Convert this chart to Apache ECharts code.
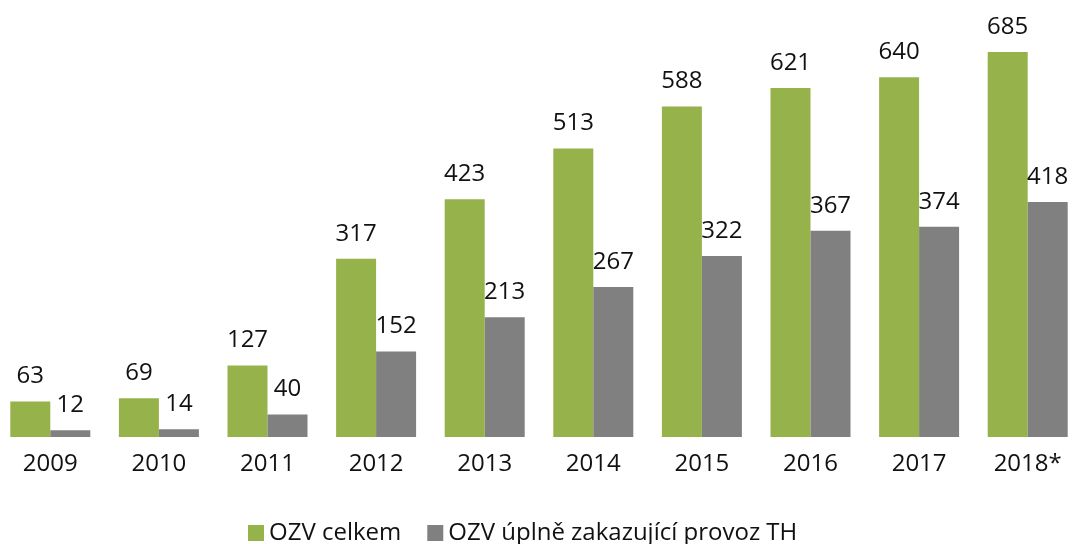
<!DOCTYPE html>
<html>
<head>
<meta charset="utf-8">
<script src="https://cdn.jsdelivr.net/npm/echarts@6/dist/echarts.min.js"></script>
<style>
  html, body { margin: 0; padding: 0; background: #fff; }
  #chart { width: 1072px; height: 544px; }
</style>
</head>
<body>
<div id="chart"></div>
<script>
var years = ['2009', '2010', '2011', '2012', '2013', '2014', '2015', '2016', '2017', '2018*'];
var celkem = [63, 69, 127, 317, 423, 513, 588, 621, 640, 685];
var uplne = [12, 14, 40, 152, 213, 267, 322, 367, 374, 418];
var seriesNames = ['OZV celkem', 'OZV úplně zakazující provoz TH'];

var myChart = echarts.init(document.getElementById('chart'));
var labelStyle = {
    show: true,
    position: 'top',
    distance: 13,
    fontSize: 24,
    color: '#111',
    fontFamily: 'Open Sans'
};
var option = {
    animation: false,
    textStyle: { fontFamily: 'Open Sans' },
    grid: {
        left: -4,
        right: -10,
        top: 43.5,
        bottom: 107,
        containLabel: false,
        outerBoundsMode: 'none'
    },
    legend: {
        top: 516,
        left: 243,
        itemWidth: 16,
        itemHeight: 16,
        itemGap: 26,
        icon: 'rect',
        textStyle: { fontSize: 24, color: '#111', fontFamily: 'Open Sans' },
        data: seriesNames
    },
    xAxis: {
        type: 'category',
        data: years,
        axisLine: { show: false },
        axisTick: { show: false },
        axisLabel: { fontSize: 24, color: '#111', margin: 15, fontFamily: 'Open Sans' }
    },
    yAxis: {
        type: 'value',
        min: 0,
        max: 700,
        show: false,
        splitLine: { show: false }
    },
    series: [{
        name: seriesNames[0],
        type: 'bar',
        data: celkem,
        barWidth: 40,
        barGap: '0%',
        itemStyle: { color: '#96B34B' },
        label: labelStyle
    }, {
        name: seriesNames[1],
        type: 'bar',
        data: uplne,
        barWidth: 40,
        itemStyle: { color: '#808080' },
        label: labelStyle
    }]
};
myChart.setOption(option);
</script>
</body>
</html>
